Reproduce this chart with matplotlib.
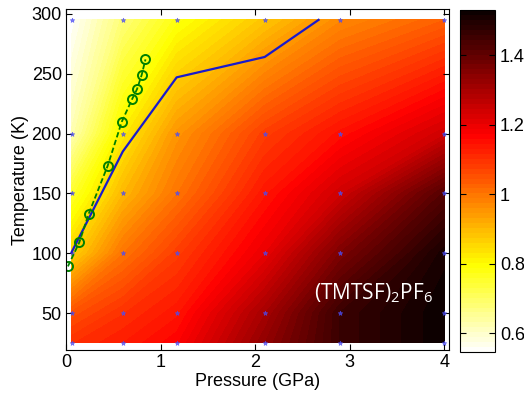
import numpy as np
import matplotlib
matplotlib.use("Agg")
import matplotlib.pyplot as plt

plt.rcParams['font.family'] = ['Liberation Sans', 'DejaVu Sans']
plt.rcParams['mathtext.fontset'] = 'custom'
plt.rcParams['mathtext.rm'] = 'Open Sans'

# measurement grid (pressure in GPa, temperature in K)
pressure = [0.06, 0.6, 1.17, 2.1, 2.9, 4.0]
temperature = [25, 50, 100, 150, 200, 295]

# field values, one row per temperature
ratio = np.array([
    [1.10, 1.13, 1.17, 1.33, 1.46, 1.53],   # 25 K
    [1.05, 1.10, 1.14, 1.30, 1.46, 1.53],   # 50 K
    [0.86, 1.00, 1.08, 1.20, 1.36, 1.51],   # 100 K
    [0.75, 0.90, 1.00, 1.14, 1.24, 1.42],   # 150 K
    [0.62, 0.82, 0.95, 1.08, 1.15, 1.24],   # 200 K
    [0.55, 0.68, 0.78, 0.88, 0.97, 1.03],   # 295 K
])

# boundary line (blue)
blue_p = [0.06, 0.6, 1.17, 2.1, 2.67]
blue_t = [101, 185, 247, 264, 295]

# green dashed line with circles
green_p = [0.02, 0.14, 0.24, 0.44, 0.59, 0.70, 0.75, 0.80, 0.84]
green_t = [89, 109, 133, 173, 210, 229, 237, 249, 262]

fig = plt.figure(figsize=(5.24, 3.97), dpi=100)
ax = fig.add_axes([0.126, 0.118, 0.731, 0.859])
cax = fig.add_axes([0.878, 0.113, 0.067, 0.862])

P, T = np.meshgrid(pressure, temperature)
levels = np.linspace(0.545, 1.53, 70)
cf = ax.contourf(P, T, ratio, levels=levels, cmap='hot_r', extend='both')

ax.plot(P.ravel(), T.ravel(), '*', color=(0.3, 0.3, 0.95), ms=3.5, mew=0.5, alpha=0.75)
ax.plot(blue_p, blue_t, '-', color=(0.1, 0.1, 0.8), lw=1.6)
ax.plot(green_p, green_t, '--o', color=(0.0, 0.5, 0.0), lw=1.3, ms=6.5,
        mfc='none', mew=1.4, dashes=(3, 1.5))

ax.text(3.25, 67, r'(TMTSF)$_2$PF$_6$', color='white', fontsize=15,
        family='Open Sans', ha='center', va='center')

ax.set_xlim(0, 4.05)
ax.set_ylim(19, 304)
ax.set_xticks([0, 1, 2, 3, 4])
ax.set_yticks([50, 100, 150, 200, 250, 300])
ax.set_xticklabels(['0', '1', '2', '3', '4'])
ax.tick_params(direction='in', top=True, right=True, labelsize=13, length=4, pad=3)
ax.set_xlabel('Pressure (GPa)', fontsize=13, labelpad=1)
ax.set_ylabel('Temperature (K)', fontsize=13, labelpad=2)

cb = fig.colorbar(cf, cax=cax, ticks=[0.6, 0.8, 1.0, 1.2, 1.4], extendfrac=0)
cb.ax.set_yticklabels(['0.6', '0.8', '1', '1.2', '1.4'])
cb.ax.tick_params(direction='in', left=True, right=True, labelsize=13, length=4)

fig.savefig('out.png', dpi=100)
